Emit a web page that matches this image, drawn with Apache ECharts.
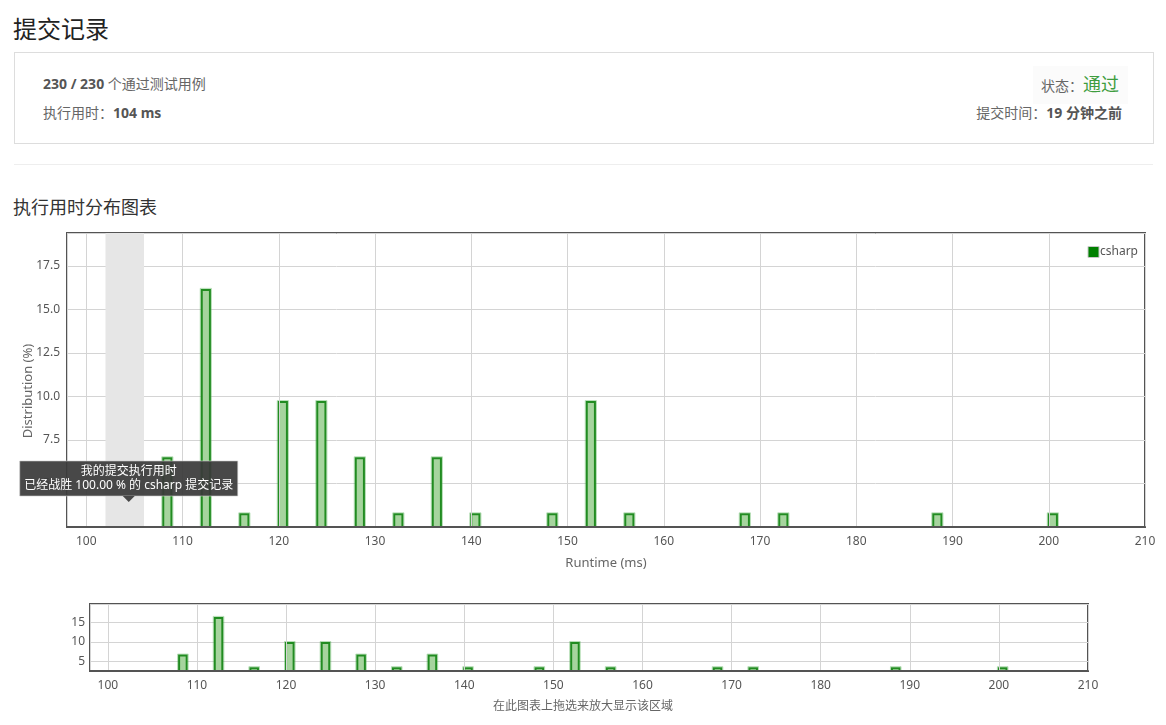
<!DOCTYPE html>
<html>
<head>
<meta charset="utf-8">
<script src="https://cdn.jsdelivr.net/npm/echarts@6/dist/echarts.min.js"></script>
<style>
  html, body { margin:0; padding:0; background:#fff; width:1166px; height:725px; overflow:hidden;
    font-family:"Noto Sans","Noto Sans CJK SC",sans-serif; color:#555; }
  .abs { position:absolute; white-space:nowrap; }
  #title { left:13px; top:12px; font-size:24px; color:#222; line-height:34px; }
  #box { left:14px; top:52px; width:1138px; height:90px; border:1px solid #ddd; box-sizing:content-box; }
  .row { font-size:14px; line-height:18px; color:#666; }
  b { color:#555; }
  #r1 { left:43px; top:75px; }
  #r2 { left:43px; top:104px; }
  #status { right:38px; top:66px; font-size:14px; line-height:36px; background:#fbfbfb; padding:0 9px 0 8px; }
  #status span { color:#3e9d3e; font-size:18px; }
  #time { right:44px; top:104px; }
  #sep { left:14px; top:164px; width:1139px; height:1px; background:#eee; }
  #sub { left:13px; top:195px; font-size:18px; color:#333; line-height:24px; }
  #chart { position:absolute; left:0; top:0; width:1166px; height:725px; }
</style>
</head>
<body>
<div class="abs" id="title">提交记录</div>
<div class="abs" id="box"></div>
<div class="abs row" id="r1"><b>230 / 230</b> 个通过测试用例</div>
<div class="abs row" id="r2">执行用时：<b>104 ms</b></div>
<div class="abs row" id="status">状态：<span>通过</span></div>
<div class="abs row" id="time">提交时间：<b>19 分钟之前</b></div>
<div class="abs" id="sep"></div>
<div class="abs" id="sub">执行用时分布图表</div>
<div id="chart"></div>
<script>
// ---- data ----
const seriesName = 'csharp';
const runtimes = [108, 112, 116, 120, 124, 128, 132, 136, 140, 148, 152, 156, 168, 172, 188, 200];
const distribution = [6.45, 16.13, 3.23, 9.68, 9.68, 6.45, 3.23, 6.45, 3.23, 3.23, 9.68, 3.23, 3.23, 3.23, 3.23, 3.23];
const myRuntime = 104;
const myBand = [102, 106];
const beatPercent = '100.00';
const xRange = [98, 210];
const yRangeMain = [2.5, 19.4];
const yRangeOverview = [2.5, 19.7];
const tooltipLines = ['我的提交执行用时', '已经战胜 ' + beatPercent + ' % 的 ' + seriesName + ' 提交记录'];
const overviewHint = '在此图表上拖选来放大显示该区域';

const BIN = 0.85;
const FONT = '"Noto Sans","Noto Sans CJK SC",sans-serif';
const points = runtimes.map((r, i) => [r, distribution[i]]);

function renderBar(params, api) {
  const x = api.value(0), y = api.value(1);
  const p0 = api.coord([x, y]);
  const p1 = api.coord([x + BIN, 0]);
  const shape = { x: p0[0], y: p0[1], width: p1[0] - p0[0], height: p1[1] - p0[1] };
  const outer = { x: shape.x - 1.5, y: shape.y - 1.5, width: shape.width + 3, height: shape.height + 3 };
  return {
    type: 'group',
    children: [
      { type: 'rect', shape: outer, style: { fill: null, stroke: 'rgba(90,180,90,0.45)', lineWidth: 1 } },
      { type: 'rect', shape: shape, style: { fill: '#a6d49e', stroke: '#218c21', lineWidth: 2 } }
    ]
  };
}

const chart = echarts.init(document.getElementById('chart'), null, { renderer: 'canvas' });
const gridLine = { show: true, lineStyle: { color: '#d4d4d4', width: 1 } };
const labelStyle = { color: '#555', fontSize: 12, fontFamily: FONT };

chart.setOption({
  animation: false,
  textStyle: { fontFamily: FONT },
  grid: [
    { left: 67, top: 233, right: 21, height: 294, show: true, borderColor: '#545454', borderWidth: 2, backgroundColor: 'transparent' },
    { left: 90, top: 604, right: 78, height: 67, show: true, borderColor: '#545454', borderWidth: 2, backgroundColor: 'transparent' }
  ],
  legend: {
    data: [{ name: seriesName, icon: 'rect', itemStyle: { color: '#008000', borderColor: '#c8c8c8', borderWidth: 1 } }],
    right: 23, top: 241, itemWidth: 11, itemHeight: 11, itemGap: 2,
    textStyle: { color: '#555', fontSize: 12, fontFamily: FONT, padding: [0, 0, 0, -4] }
  },
  xAxis: [
    {
      gridIndex: 0, type: 'value', min: xRange[0], max: xRange[1], splitNumber: 11,
      name: 'Runtime (ms)', nameLocation: 'middle', nameGap: 30, nameMoveOverlap: false,
      nameTextStyle: { color: '#666', fontSize: 13, fontFamily: FONT },
      axisLine: { show: true, lineStyle: { color: '#545454', width: 2 } }, z: 5,
      axisTick: { show: false }, splitLine: gridLine,
      axisLabel: Object.assign({ margin: 9, formatter: v => (Math.abs(v % 10) < 1e-6 ? String(v) : '') }, labelStyle)
    },
    {
      gridIndex: 1, type: 'value', min: xRange[0], max: xRange[1], splitNumber: 11,
      axisLine: { show: true, lineStyle: { color: '#545454', width: 2 } }, z: 5,
      axisTick: { show: false }, splitLine: gridLine,
      axisLabel: Object.assign({ margin: 9, formatter: v => (Math.abs(v % 10) < 1e-6 ? String(v) : '') }, labelStyle)
    }
  ],
  yAxis: [
    {
      gridIndex: 0, type: 'value', min: yRangeMain[0], max: yRangeMain[1], interval: 2.5,
      name: 'Distribution (%)', nameLocation: 'middle', nameGap: 32, nameMoveOverlap: false,
      nameTextStyle: { color: '#666', fontSize: 13, fontFamily: FONT, padding: [0, 22, 0, 0] },
      axisLine: { show: false }, axisTick: { show: false }, splitLine: gridLine,
      axisLabel: Object.assign({ margin: 7, showMinLabel: false, showMaxLabel: false,
        formatter: v => {
          const k = v / 2.5;
          return (Math.abs(k - Math.round(k)) < 1e-6 && v > yRangeMain[0] + 1e-6 && v < yRangeMain[1] - 1e-6) ? v.toFixed(1) : '';
        } }, labelStyle)
    },
    {
      gridIndex: 1, type: 'value', min: yRangeOverview[0], max: yRangeOverview[1], splitNumber: 3,
      axisLine: { show: false }, axisTick: { show: false }, splitLine: gridLine,
      axisLabel: Object.assign({ margin: 5,
        formatter: v => {
          const k = v / 5;
          return (Math.abs(k - Math.round(k)) < 1e-6 && v > yRangeOverview[0] && v < yRangeOverview[1]) ? String(Math.round(v)) : '';
        } }, labelStyle)
    }
  ],
  series: [
    {
      name: seriesName, type: 'custom', xAxisIndex: 0, yAxisIndex: 0, clip: true,
      itemStyle: { color: '#008000' },
      renderItem: renderBar, data: points,
      markArea: {
        silent: true, itemStyle: { color: '#e6e6e6' },
        data: [[{ xAxis: myBand[0] }, { xAxis: myBand[1] }]]
      }
    },
    {
      name: seriesName + '-overview', type: 'custom', xAxisIndex: 1, yAxisIndex: 1, clip: true,
      itemStyle: { color: '#008000' },
      renderItem: renderBar, data: points
    }
  ]
});

// static tooltip anchored at my runtime
const anchor = chart.convertToPixel({ gridIndex: 0 }, [myRuntime, yRangeMain[0]]);
const boxW = 218, boxH = 35;
const cx = anchor[0] + 4;
const tipY = anchor[1] - 26;
const hint = chart.convertToPixel({ gridIndex: 1 }, [xRange[0], yRangeOverview[0]]);
const TIP_BG = 'rgba(58,58,58,0.93)';
chart.setOption({
  graphic: [
    {
      type: 'group', zlevel: 2, z: 100,
      children: [
        { type: 'rect', z: 100, zlevel: 2, shape: { x: cx - boxW / 2, y: tipY - 5 - boxH, width: boxW, height: boxH },
          style: { fill: TIP_BG, stroke: 'rgba(200,200,200,0.6)', lineWidth: 1 } },
        { type: 'polygon', z: 100, zlevel: 2, shape: { points: [[cx - 6, tipY - 5], [cx + 6, tipY - 5], [cx, tipY + 1]] },
          style: { fill: TIP_BG } },
        { type: 'text', z: 101, zlevel: 2, style: { text: tooltipLines[0] + '\n' + tooltipLines[1], x: cx, y: tipY - 5 - boxH / 2,
          align: 'center', verticalAlign: 'middle', fill: '#fff', fontSize: 12, lineHeight: 14, fontFamily: FONT } }
      ]
    },
    {
      type: 'text', z: 100,
      style: { text: overviewHint, x: 583, y: hint[1] + 36, align: 'center', verticalAlign: 'middle',
        fill: '#666', fontSize: 12, fontFamily: FONT }
    }
  ]
});
</script>
</body>
</html>
